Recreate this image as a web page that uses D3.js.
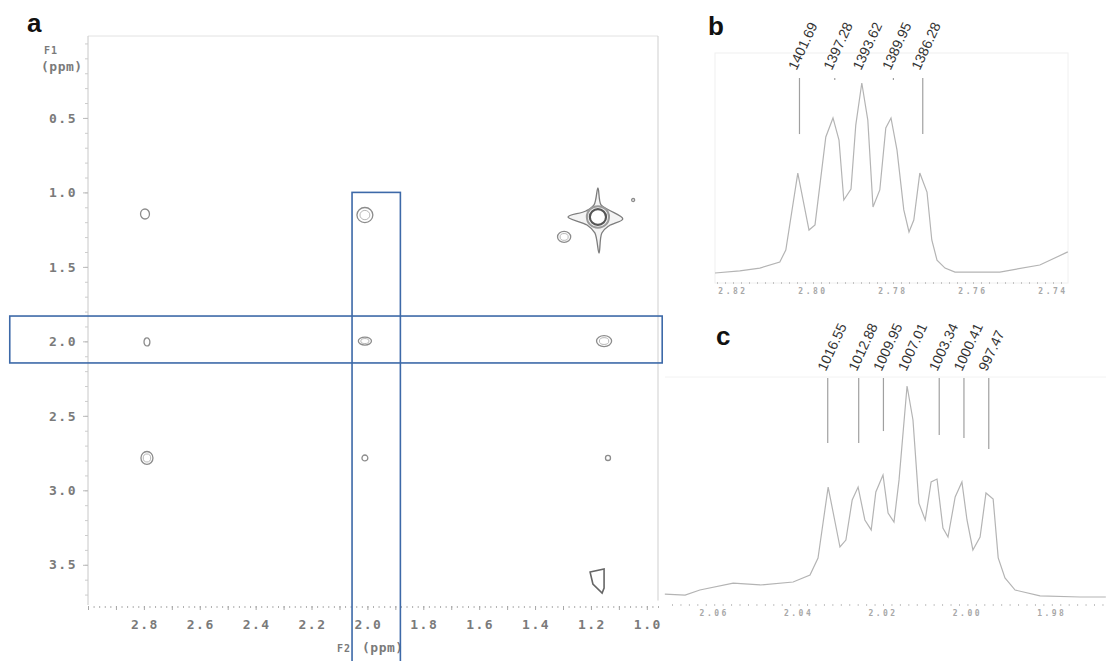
<!DOCTYPE html>
<html>
<head>
<meta charset="utf-8">
<script src="https://cdn.jsdelivr.net/npm/d3@7"></script>
<style>
  body { margin: 0; background: #fff; }
  svg { display: block; }
  .mono { font-family: "DejaVu Sans Mono", monospace; font-weight: bold; }
  .sans { font-family: "Liberation Sans", Arial, sans-serif; }
</style>
</head>
<body>
<svg id="chart" width="1106" height="661"></svg>
<script>
// panel a : COSY map (ppm)
var f1Ticks = [0.5, 1.0, 1.5, 2.0, 2.5, 3.0, 3.5];
var f2Ticks = [2.8, 2.6, 2.4, 2.2, 2.0, 1.8, 1.6, 1.4, 1.2, 1.0];

// cross peaks
var peakF2 = [2.796, 2.009, 1.296, 1.049, 2.789, 2.009, 1.153, 2.789, 2.009, 1.139];
var peakF1 = [1.145, 1.152, 1.299, 1.051, 2.004, 1.998, 1.998, 2.783, 2.783, 2.783];
var peakWidthF2 = [0.032, 0.057, 0.047, 0.011, 0.021, 0.047, 0.054, 0.043, 0.021, 0.018];
var peakWidthF1 = [0.067, 0.101, 0.074, 0.020, 0.054, 0.054, 0.074, 0.087, 0.040, 0.034];
var peakLevels = [1, 2, 2, 1, 1, 2, 2, 2, 1, 1];

// diagonal methyl peak (star shaped contour) and the one at 3.6 ppm
var starF2 = [1.175, 1.164, 1.136, 1.086, 1.136, 1.161, 1.171, 1.186, 1.214, 1.282, 1.218, 1.189];
var starF1 = [0.970, 1.084, 1.118, 1.178, 1.225, 1.272, 1.407, 1.272, 1.219, 1.165, 1.125, 1.084];
var starCentre = [1.175, 1.165];
var starHole = [0.058, 0.105];
var quadF2 = [1.203, 1.153, 1.153, 1.160, 1.193];
var quadF1 = [3.549, 3.528, 3.656, 3.690, 3.629];

// highlighted slices [f2 left, f2 right, f1 top, f1 bottom]
var columnBox = [2.055, 1.882, 1.0, 4.25];
var rowBox = [3.28, 0.945, 1.83, 2.145];

// panel b : 1D slice at 2.79 ppm
var bPpm = [2.8245, 2.8183, 2.8133, 2.8083, 2.8068, 2.8038, 2.8010, 2.7995, 2.7968, 2.7950,
  2.7935, 2.7923, 2.7905, 2.7893, 2.7878, 2.7863, 2.7850, 2.7833, 2.7818, 2.7805,
  2.7790, 2.7773, 2.7760, 2.7748, 2.7733, 2.7715, 2.7703, 2.7690, 2.7670, 2.7645,
  2.7533, 2.7433, 2.7363];
var bInt = [0, 1.1, 2.6, 5.8, 12.1, 52.6, 22.6, 25.3, 71.6, 81.6,
  70, 38.4, 44.2, 78, 100, 80.5, 34.7, 43.7, 76.3, 81.6,
  64.7, 33.2, 21.6, 27.9, 52.6, 42.6, 17.4, 6.8, 2.6, 0.5,
  0.5, 4.2, 11.1];
var bHz = [1401.69, 1397.28, 1393.62, 1389.95, 1386.28];
var bTicks = [2.82, 2.80, 2.78, 2.76, 2.74];

// panel c : 1D slice at 2.02 ppm
var cPpm = [2.0717, 2.0669, 2.0634, 2.0555, 2.0491, 2.0413, 2.0373, 2.0354, 2.0330, 2.0302,
  2.0288, 2.0273, 2.0259, 2.0243, 2.0228, 2.0217, 2.0200, 2.0188, 2.0174, 2.0162,
  2.0143, 2.0129, 2.0115, 2.0100, 2.0086, 2.0072, 2.0058, 2.0046, 2.0029, 2.0013,
  2.0001, 1.9987, 1.9970, 1.9956, 1.9939, 1.9927, 1.9911, 1.9887, 1.9828, 1.9733,
  1.9672];
var cInt = [1.4, 0.9, 3.3, 6.6, 5.7, 7.1, 10.4, 18.5, 52.1, 23.7,
  27.0, 46.0, 52.1, 36.5, 31.8, 49.8, 57.8, 39.8, 35.5, 55.5,
  100, 83.9, 44.5, 36.5, 54.5, 55.9, 32.7, 28.4, 47.4, 54.5,
  36.5, 22.3, 28.4, 49.3, 46.4, 18.5, 9.0, 3.3, 0.5, 0,
  0];
var cHz = [1016.55, 1012.88, 1009.95, 1007.01, 1003.34, 1000.41, 997.47];
var cTicks = [2.06, 2.04, 2.02, 2.00, 1.98];

var specMHz = 500;

;(function (d3) {
  'use strict';

  var svg = d3.select("#chart");
  svg.append("rect").attr("width", 1106).attr("height", 661).attr("fill", "#fff");

  var boxColor = "#3d69a8";
  var axisGray = "#7a7a7a";

  // ---------- panel a ----------
  var xA = d3.scaleLinear().domain([3.0, 0.96]).range([88, 658]);
  var yA = d3.scaleLinear().domain([-0.05, 3.77]).range([36, 605]);
  var a = svg.append("g").attr("class", "panel-a");

  a.append("line")
    .attr("x1", xA(3.0)).attr("x2", xA(0.96))
    .attr("y1", yA(-0.05)).attr("y2", yA(-0.05))
    .attr("stroke", "#e2e2e2");
  a.append("line")
    .attr("x1", xA(0.96)).attr("x2", xA(0.96))
    .attr("y1", yA(-0.05)).attr("y2", yA(3.74))
    .attr("stroke", "#cfcfcf");
  a.append("line")
    .attr("x1", xA(3.0)).attr("x2", xA(3.0))
    .attr("y1", yA(-0.05)).attr("y2", yA(3.77))
    .attr("stroke", "#c8c8c8");

  // y axis ticks
  var yMinor = a.append("g").attr("transform", "translate(" + xA(3.0) + ",0)")
    .call(d3.axisLeft(yA).tickValues(yA.ticks(40)).tickSize(3).tickFormat(""));
  yMinor.select(".domain").remove();
  yMinor.selectAll("line").attr("stroke", "#cccccc");

  var yMajor = a.append("g").attr("transform", "translate(" + xA(3.0) + ",0)")
    .call(d3.axisLeft(yA).tickValues(f1Ticks).tickSize(5).tickPadding(6)
      .tickFormat(d3.format(".1f")));
  yMajor.select(".domain").remove();
  yMajor.selectAll("line").attr("stroke", "#bbbbbb");
  yMajor.selectAll("text")
    .attr("class", "mono")
    .attr("font-size", 13)
    .attr("letter-spacing", 1.5)
    .attr("fill", axisGray);

  // x axis ticks (dotted row)
  var xMinor = a.append("g").attr("transform", "translate(0," + (yA(3.77) + 1) + ")")
    .call(d3.axisBottom(xA).tickValues(xA.ticks(100)).tickSize(2).tickFormat(""));
  xMinor.select(".domain").remove();
  xMinor.selectAll("line").attr("stroke", "#b0b0b0");

  var xMajor = a.append("g").attr("transform", "translate(0," + (yA(3.77) + 1) + ")")
    .call(d3.axisBottom(xA).tickValues(xA.ticks(20)).tickSize(4).tickFormat(""));
  xMajor.select(".domain").remove();
  xMajor.selectAll("line").attr("stroke", "#a8a8a8");

  a.selectAll(".f2label").data(f2Ticks).enter().append("text")
    .attr("class", "mono f2label")
    .attr("x", function (d) { return xA(d) + 1; })
    .attr("y", 629)
    .attr("text-anchor", "middle")
    .attr("font-size", 13)
    .attr("letter-spacing", 1.5)
    .attr("fill", axisGray)
    .text(d3.format(".1f"));

  a.append("text").attr("class", "mono")
    .attr("x", 44).attr("y", 54).attr("font-size", 10).attr("letter-spacing", 1)
    .attr("fill", axisGray).text("F1");
  a.append("text").attr("class", "mono")
    .attr("x", 41).attr("y", 71).attr("font-size", 13).attr("letter-spacing", 0.5)
    .attr("fill", axisGray).text("(ppm)");
  a.append("text").attr("class", "mono")
    .attr("x", 337).attr("y", 652).attr("font-size", 10).attr("letter-spacing", 1)
    .attr("fill", axisGray).text("F2");
  a.append("text").attr("class", "mono")
    .attr("x", 362).attr("y", 652).attr("font-size", 13).attr("letter-spacing", 0.5)
    .attr("fill", axisGray).text("(ppm)");

  // cross peaks
  var peaks = peakF2.map(function (f2, i) {
    return { f2: f2, f1: peakF1[i], w: peakWidthF2[i], h: peakWidthF1[i], n: peakLevels[i] };
  });
  var pg = a.selectAll(".peak").data(peaks).enter().append("g")
    .attr("class", "peak")
    .attr("transform", function (d) { return "translate(" + xA(d.f2) + "," + yA(d.f1) + ")"; });
  pg.each(function (d) {
    var g = d3.select(this);
    var rx = Math.abs(xA(d.f2 + d.w / 2) - xA(d.f2));
    var ry = Math.abs(yA(d.f1 + d.h / 2) - yA(d.f1));
    for (var k = 0; k < d.n; k++) {
      var s = 1 - k * 0.38;
      g.append("ellipse")
        .attr("rx", rx * s).attr("ry", ry * s)
        .attr("fill", "none")
        .attr("stroke", k === 0 ? "#8c8c8c" : "#b8b8b8")
        .attr("stroke-width", k === 0 ? 1.3 : 1);
    }
  });

  var star = starF2.map(function (f2, i) { return [xA(f2), yA(starF1[i])]; });
  var starLine = d3.line().curve(d3.curveCatmullRomClosed.alpha(0.5));
  a.append("path")
    .attr("d", starLine(star))
    .attr("fill", "#f4f4f4")
    .attr("stroke", "#7d7d7d")
    .attr("stroke-width", 1.3);
  var cx = xA(starCentre[0]), cy = yA(starCentre[1]);
  var hx = Math.abs(xA(starCentre[0] + starHole[0] / 2) - cx);
  var hy = Math.abs(yA(starCentre[1] + starHole[1] / 2) - cy);
  a.append("ellipse")
    .attr("cx", cx).attr("cy", cy).attr("rx", hx + 3).attr("ry", hy + 3)
    .attr("fill", "none").attr("stroke", "#9a9a9a").attr("stroke-width", 2);
  a.append("ellipse")
    .attr("cx", cx).attr("cy", cy).attr("rx", hx).attr("ry", hy)
    .attr("fill", "#fff").attr("stroke", "#555").attr("stroke-width", 2.2);

  var quad = quadF2.map(function (f2, i) { return [xA(f2), yA(quadF1[i])]; });
  a.append("path")
    .attr("d", d3.line().curve(d3.curveLinearClosed)(quad))
    .attr("fill", "none")
    .attr("stroke", "#666")
    .attr("stroke-width", 1.6);

  // slice boxes
  [columnBox, rowBox].forEach(function (b) {
    a.append("rect")
      .attr("x", xA(b[0])).attr("y", yA(b[2]))
      .attr("width", xA(b[1]) - xA(b[0]))
      .attr("height", yA(b[3]) - yA(b[2]))
      .attr("fill", "none")
      .attr("stroke", boxColor)
      .attr("stroke-width", 1.6);
  });

  // ---------- 1D slices ----------
  function slicePanel(o) {
    var g = svg.append("g");
    var x = d3.scaleLinear().domain(o.xDomain).range(o.xRange);
    var y = d3.scaleLinear().domain([0, 100]).range(o.yRange);

    if (o.frame) {
      g.append("rect")
        .attr("x", o.xRange[0]).attr("y", o.frame[0])
        .attr("width", o.xRange[1] - o.xRange[0]).attr("height", o.frame[1] - o.frame[0])
        .attr("fill", "none").attr("stroke", "#f0f0f0");
    } else {
      g.append("line")
        .attr("x1", o.xRange[0]).attr("x2", o.xRange[1])
        .attr("y1", o.topLine).attr("y2", o.topLine)
        .attr("stroke", "#f2f2f2");
    }

    var ax = g.append("g").attr("transform", "translate(0," + o.axisY + ")")
      .call(d3.axisBottom(x).tickValues(x.ticks(45)).tickSize(2).tickFormat(""));
    ax.select(".domain").remove();
    ax.selectAll("line").attr("stroke", "#c4c4c4");

    g.selectAll(".tl").data(o.ticks).enter().append("text")
      .attr("class", "mono tl")
      .attr("x", function (d) { return x(d); })
      .attr("y", o.axisY + 12)
      .attr("text-anchor", "middle")
      .attr("font-size", 8)
      .attr("letter-spacing", 2.5)
      .attr("fill", "#a8a8a8")
      .text(d3.format(".2f"));

    var pts = o.ppm.map(function (p, i) { return [p, o.inten[i]]; });
    g.append("path")
      .attr("d", d3.line().x(function (d) { return x(d[0]); }).y(function (d) { return y(d[1]); })(pts))
      .attr("fill", "none")
      .attr("stroke", "#b4b4b4")
      .attr("stroke-width", 1.2);

    o.hz.forEach(function (hz) {
      var p = hz / specMHz;
      var lx = x(p);
      var near = pts.filter(function (d) { return Math.abs(d[0] - p) < 0.001; });
      var top = d3.max(near, function (d) { return d[1]; });
      var bottom = y(top) - o.gap;
      if (bottom > o.lineTop - 3) {
        g.append("line")
          .attr("x1", lx).attr("x2", lx)
          .attr("y1", o.lineTop).attr("y2", Math.max(bottom, o.lineTop + 2))
          .attr("stroke", "#a0a0a0")
          .attr("stroke-width", 1.2);
      }
      g.append("text")
        .attr("class", "sans")
        .attr("transform", "translate(" + (lx + o.labelDx) + "," + (o.lineTop + o.labelDy) + ") rotate(-65)")
        .attr("font-size", 14)
        .attr("fill", "#333")
        .text(d3.format(".2f")(hz));
    });

    g.append("text")
      .attr("class", "sans")
      .attr("x", o.letter[0]).attr("y", o.letter[1])
      .attr("font-size", 26).attr("font-weight", "bold")
      .attr("fill", "#111")
      .text(o.name);
  }

  slicePanel({
    name: "b", letter: [708, 35],
    ppm: bPpm, inten: bInt, hz: bHz, ticks: bTicks,
    xDomain: [2.8245, 2.73625], xRange: [715, 1068], yRange: [273, 83],
    frame: [53, 283], axisY: 282,
    lineTop: 78, gap: 39, labelDx: -3, labelDy: -7
  });

  slicePanel({
    name: "c", letter: [716, 345],
    ppm: cPpm, inten: cInt, hz: cHz, ticks: cTicks,
    xDomain: [2.07166, 1.96716], xRange: [665, 1106], yRange: [597, 386],
    topLine: 377, axisY: 604,
    lineTop: 378, gap: 44, labelDx: -2, labelDy: -6
  });

  svg.append("text")
    .attr("class", "sans")
    .attr("x", 27).attr("y", 32)
    .attr("font-size", 26).attr("font-weight", "bold")
    .attr("fill", "#111")
    .text("a");

})(window.d3);
</script>
</body>
</html>
